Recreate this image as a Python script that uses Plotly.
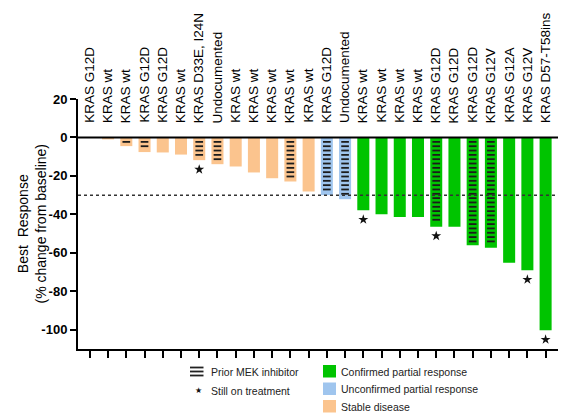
import plotly.graph_objects as go

categories = ["KRAS G12D", "KRAS wt", "KRAS wt", "KRAS G12D", "KRAS G12D", "KRAS wt",
              "KRAS D33E, I24N", "Undocumented", "KRAS wt", "KRAS wt", "KRAS wt", "KRAS wt",
              "KRAS wt", "KRAS G12D", "Undocumented", "KRAS wt", "KRAS wt", "KRAS wt",
              "KRAS wt", "KRAS G12D", "KRAS G12D", "KRAS G12D", "KRAS G12V", "KRAS G12A",
              "KRAS G12V", "KRAS D57-T58ins"]
values = [0, -1, -4.5, -7.6, -7.8, -8.9, -11.8, -13.9, -15.1, -18.2, -21.2, -22.9, -28.1,
          -30.0, -32.1, -37.9, -39.9, -41.3, -41.3, -46.4, -46.4, -56.1, -57.3, -65.1,
          -69.1, -100.3]
response = ["SD"] * 13 + ["uPR"] * 2 + ["cPR"] * 11
prior_mek = [0, 0, 1, 1, 0, 0, 1, 1, 0, 0, 0, 1, 0, 1, 1, 0, 0, 0, 0, 1, 0, 1, 1, 0, 0, 0]
on_treatment = [0, 0, 0, 0, 0, 0, 1, 0, 0, 0, 0, 0, 0, 0, 0, 1, 0, 0, 0, 1, 0, 0, 0, 0, 1, 1]
y_ticks = [20, 0, -20, -40, -60, -80, -100]
y_tick_labels = ["20", "0", "-20", "-40", "-60", "-80", "-100"]

colors = {"cPR": "#00c400", "uPR": "#9fc5ee", "SD": "#fbc48e"}
legend_names = [("cPR", "Confirmed partial response"),
                ("uPR", "Unconfirmed partial response"),
                ("SD", "Stable disease")]

W, H = 566, 416
ML, MR, MT, MB = 78, 8, 99, 67
FONT = "Liberation Sans, Arial, sans-serif"

xs = list(range(len(categories)))
bar_colors = [colors[r] for r in response]

fig = go.Figure()
fig.add_trace(go.Bar(x=xs, y=values, width=0.66,
                     marker=dict(color=bar_colors, line=dict(width=0)),
                     showlegend=False, hoverinfo="skip"))

# "Prior MEK inhibitor" hatching: short horizontal dashes inside the bar
dash_x, dash_y = [], []
DASH_HALF, DASH_START, DASH_STEP, DASH_END_GAP = 0.21, -2.3, 2.25, 2.0
for i in xs:
    if not prior_mek[i]:
        continue
    y = DASH_START
    while y >= values[i] + DASH_END_GAP:
        dash_x += [i - DASH_HALF, i + DASH_HALF, None]
        dash_y += [y, y, None]
        y -= DASH_STEP
fig.add_trace(go.Scatter(x=dash_x, y=dash_y, mode="lines",
                         line=dict(color="#1c1c1c", width=1.8),
                         showlegend=False, hoverinfo="skip"))

star_x = [i for i in xs if on_treatment[i]]
fig.add_trace(go.Scatter(x=star_x, y=[values[i] - 4.8 for i in star_x], mode="markers",
                         marker=dict(symbol="star", size=7.5, color="#111"),
                         showlegend=False, hoverinfo="skip", cliponaxis=False))

x0, x1 = -0.65, 25.68
y0, y1 = -110, 20
pw = W - ML - MR
ph = H - MT - MB


def pxx(p):
    return (p - ML) / pw


def pxy(p):
    return (H - MB - p) / ph


shapes = [
    dict(type="line", xref="paper", yref="y", x0=0, x1=1, y0=0, y1=0,
         line=dict(color="black", width=2)),
    dict(type="line", xref="paper", yref="y", x0=0, x1=1, y0=-30, y1=-30,
         line=dict(color="#333", width=1.5, dash="3px,3px")),
]
# MEK legend icon
for yy in (367.5, 371.5, 375.5):
    shapes.append(dict(type="line", xref="paper", yref="paper", x0=pxx(190), x1=pxx(203.5),
                       y0=pxy(yy), y1=pxy(yy), line=dict(color="#222", width=1.8)))
# colour squares
sq_tops = [365, 382.5, 400]
for (key, _), top in zip(legend_names, sq_tops):
    shapes.append(dict(type="rect", xref="paper", yref="paper", x0=pxx(323), x1=pxx(336),
                       y0=pxy(top), y1=pxy(top + 12.5), fillcolor=colors[key],
                       line=dict(width=0)))

annotations = []
for i, lab in enumerate(categories):
    annotations.append(dict(x=i, y=6.5, xref="x", yref="y", text=lab, textangle=-90,
                            showarrow=False, xanchor="center", yanchor="bottom",
                            font=dict(family=FONT, size=13.5, color="black")))

annotations.append(dict(x=pxx(31.5), y=0.5, xref="paper", yref="paper",
                        text="Best  Response<br>(% change from baseline)", textangle=-90,
                        showarrow=False, xanchor="center", yanchor="middle",
                        font=dict(family=FONT, size=14, color="black")))

leg_font = dict(family=FONT, size=10.5, color="#222")
annotations.append(dict(x=pxx(198.3), y=pxy(390.5), xref="paper", yref="paper",
                        text="★", showarrow=False, xanchor="center", yanchor="middle",
                        font=dict(family="DejaVu Sans", size=8, color="#111")))
annotations.append(dict(x=pxx(209), y=pxy(371.5), xref="paper", yref="paper",
                        text="Prior MEK inhibitor", showarrow=False, xanchor="left",
                        yanchor="middle", font=leg_font))
annotations.append(dict(x=pxx(209), y=pxy(390.5), xref="paper", yref="paper",
                        text="Still on treatment", showarrow=False, xanchor="left",
                        yanchor="middle", font=leg_font))
for (key, name), top in zip(legend_names, sq_tops):
    annotations.append(dict(x=pxx(338.5), y=pxy(top + 6.5), xref="paper", yref="paper",
                            text=name, showarrow=False, xanchor="left", yanchor="middle",
                            font=leg_font))

fig.update_layout(
    width=W, height=H,
    margin=dict(l=ML, r=MR, t=MT, b=MB, pad=0),
    plot_bgcolor="white", paper_bgcolor="white",
    barmode="overlay",
    shapes=shapes, annotations=annotations,
    xaxis=dict(range=[x0, x1], tickvals=xs, showticklabels=False, ticks="outside",
               ticklen=7, tickwidth=2, tickcolor="black", showline=True, linewidth=2,
               linecolor="black", showgrid=False, zeroline=False),
    yaxis=dict(range=[y0, y1], tickvals=y_ticks, ticktext=y_tick_labels, ticks="outside",
               ticklen=6, tickwidth=2, tickcolor="black", showline=True, linewidth=2,
               linecolor="black", showgrid=False, zeroline=False,
               tickfont=dict(family=FONT, size=13, color="black", weight="bold")),
)

fig.write_html("out.html", config={"displayModeBar": False},
               post_script="document.body.style.margin='0';document.body.style.padding='0';")
